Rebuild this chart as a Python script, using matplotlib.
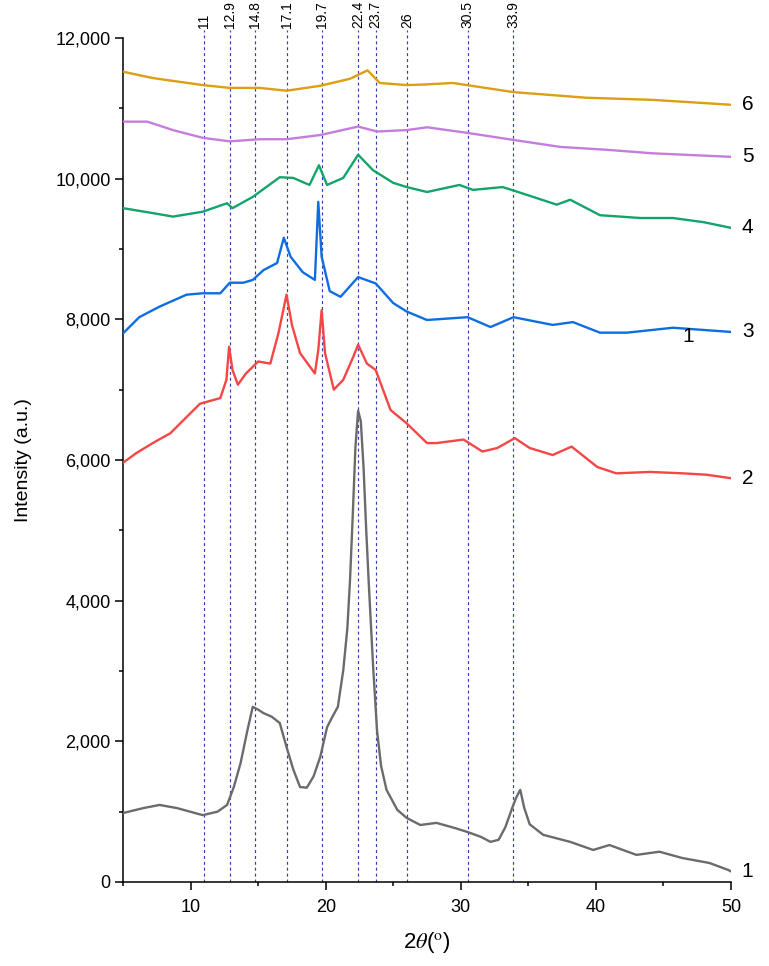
import numpy as np
import matplotlib.pyplot as plt
from matplotlib.ticker import MultipleLocator, FuncFormatter

plt.rcParams['font.family'] = ['Liberation Sans', 'DejaVu Sans']
plt.rcParams['mathtext.fontset'] = 'stix'

# curve 1 (gray)
t1 = [5, 6.5, 7.7, 9, 10.9, 12, 12.7, 13.2, 13.7, 14.2, 14.6, 15.0, 15.4, 16.0, 16.6, 17.1,
      17.6, 18.1, 18.6, 19.1, 19.6, 20.1, 20.5, 20.9, 21.3, 21.6, 21.8, 22.0, 22.2, 22.4, 22.6,
      22.8, 23.0, 23.2, 23.5, 23.8, 24.1, 24.5, 25.3, 26.0, 27.0, 28.2, 29.5, 30.5, 31.5, 32.2,
      32.8, 33.3, 33.8, 34.1, 34.4, 34.7, 35.1, 36.1, 38.1, 39.8, 41.0, 43.0, 44.7, 46.4, 48.4,
      49.8, 50]
i1 = [980, 1050, 1095, 1050, 950, 1000, 1095, 1350, 1690, 2150, 2490, 2450, 2400, 2350, 2260, 1920,
      1600, 1350, 1340, 1500, 1780, 2200, 2350, 2490, 3010, 3600, 4290, 5200, 6180, 6700, 6550,
      5900, 5000, 4200, 3100, 2150, 1650, 1310, 1025, 910, 810, 840, 770, 710, 640, 570,
      600, 780, 1050, 1200, 1310, 1050, 820, 670, 570, 455, 525, 385, 430, 340, 270,
      170, 150]

# curve 2 (red)
t2 = [5, 6.0, 7.2, 8.5, 9.7, 10.7, 12.2, 12.65, 12.85, 13.1, 13.5, 14.1, 15.0, 15.9, 16.5, 17.1,
      17.5, 18.1, 19.2, 19.45, 19.7, 19.95, 20.6, 21.3, 22.05, 22.4, 23.05, 23.7, 24.8, 26.0,
      27.5, 28.2, 30.2, 31.6, 32.7, 34.0, 35.1, 36.8, 38.2, 40.1, 41.5, 44.0, 46.4, 48.2, 50]
i2 = [5960, 6100, 6240, 6380, 6610, 6800, 6880, 7140, 7610, 7280, 7070, 7230, 7400, 7370, 7800, 8350,
      7920, 7520, 7230, 7560, 8130, 7520, 7000, 7140, 7470, 7640, 7370, 7280, 6710, 6520,
      6240, 6240, 6290, 6120, 6170, 6310, 6170, 6070, 6190, 5900, 5810, 5830, 5810, 5790, 5740]

# curve 3 (blue)
t3 = [5, 6.2, 7.7, 9.7, 10.9, 12.2, 12.9, 13.9, 14.6, 15.4, 16.4, 16.9, 17.4, 18.3, 19.2, 19.45,
      19.7, 20.3, 21.1, 22.4, 23.7, 25.0, 26.0, 27.5, 30.5, 32.2, 33.9, 36.8, 38.3, 40.3, 42.3,
      45.7, 50]
i3 = [7800, 8030, 8180, 8350, 8370, 8370, 8520, 8520, 8560, 8700, 8800, 9160, 8890, 8670, 8560, 9670,
      8890, 8400, 8320, 8600, 8510, 8230, 8110, 7990, 8030, 7890, 8030, 7920, 7960, 7810, 7810,
      7880, 7820]

# curve 4 (green)
t4 = [5, 7.2, 8.7, 10.9, 12.7, 13.1, 14.6, 15.6, 16.6, 17.6, 18.8, 19.5, 20.1, 21.3, 22.0, 22.4,
      23.5, 25.0, 26.0, 27.5, 29.9, 30.9, 33.1, 34.4, 37.1, 38.1, 40.3, 43.3, 45.7, 48.0, 50]
i4 = [9580, 9510, 9460, 9530, 9650, 9580, 9740, 9880, 10020, 10010, 9910, 10190, 9910, 10010, 10220, 10340,
      10120, 9940, 9880, 9810, 9910, 9840, 9880, 9800, 9630, 9700, 9480, 9440, 9440, 9380, 9300]

# curve 5 (purple)
t5 = [5, 6.8, 8.7, 10.9, 12.9, 15.1, 17.1, 19.6, 22.4, 23.8, 26.0, 27.5, 29.0, 30.5, 33.9, 37.4,
      40.8, 44.2, 50]
i5 = [10810, 10810, 10690, 10580, 10530, 10560, 10560, 10620, 10740, 10670, 10690, 10730, 10690, 10650,
      10550, 10450, 10410, 10360, 10310]

# curve 6 (orange)
t6 = [5, 7.2, 10.9, 12.9, 15.1, 17.1, 19.6, 21.8, 23.1, 24.0, 26.0, 27.5, 29.4, 33.9, 39.3, 44.2, 50]
i6 = [11520, 11430, 11330, 11290, 11290, 11250, 11320, 11420, 11540, 11360, 11330, 11340, 11360, 11230,
      11150, 11120, 11050]

curves = [(t1, i1, '#6b6b6b', '1'), (t2, i2, '#f44646', '2'), (t3, i3, '#0c6ee0', '3'),
          (t4, i4, '#12a469', '4'), (t5, i5, '#c47ddc', '5'), (t6, i6, '#dc9e12', '6')]

# reference lines
peaks = [11, 12.9, 14.8, 17.1, 19.7, 22.4, 23.7, 26, 30.5, 33.9]
peak_labels = ['11', '12.9', '14.8', '17.1', '19.7', '22.4', '23.7', '26', '30.5', '33.9']

fig = plt.figure(figsize=(7.69, 9.66), dpi=100)
ax = fig.add_axes([0.160, 0.087, 0.7906, 0.8737])

for p, lab in zip(peaks, peak_labels):
    ax.plot([p, p], [0, 12110], color='#3a3ab0', lw=0.85, ls=(0, (2.5, 2.5)), clip_on=False, zorder=1)
    ax.text(p, 12140, lab, rotation=90, ha='center', va='bottom', fontsize=10)

for t, inten, c, lab in curves:
    ax.plot(t, inten, color=c, lw=1.7, zorder=3)
    ax.text(50.8, inten[-1], lab, fontsize=15, ha='left', va='center')

ax.text(46.8, 7760, '1', fontsize=15, ha='center', va='center')

ax.set_xlim(5, 50)
ax.set_ylim(0, 12000)
ax.xaxis.set_major_locator(MultipleLocator(10))
ax.xaxis.set_minor_locator(MultipleLocator(5))
ax.yaxis.set_major_locator(MultipleLocator(2000))
ax.yaxis.set_minor_locator(MultipleLocator(1000))
ax.yaxis.set_major_formatter(FuncFormatter(lambda v, pos: f'{int(v):,}'))

for s in ['top', 'right']:
    ax.spines[s].set_visible(False)
for s in ['left', 'bottom']:
    ax.spines[s].set_linewidth(1.1)
ax.tick_params(which='major', direction='out', length=5.5, width=1.1, labelsize=13)
ax.tick_params(which='minor', direction='out', length=3, width=1.1)
ax.tick_params(axis='x', pad=7)

ax.set_ylabel('Intensity (a.u.)', fontsize=14, labelpad=17)
ax.set_xlabel(r'2$\mathit{\theta}$($^{\rm o}$)', fontsize=16, labelpad=10)

plt.savefig('out.png', dpi=100)
